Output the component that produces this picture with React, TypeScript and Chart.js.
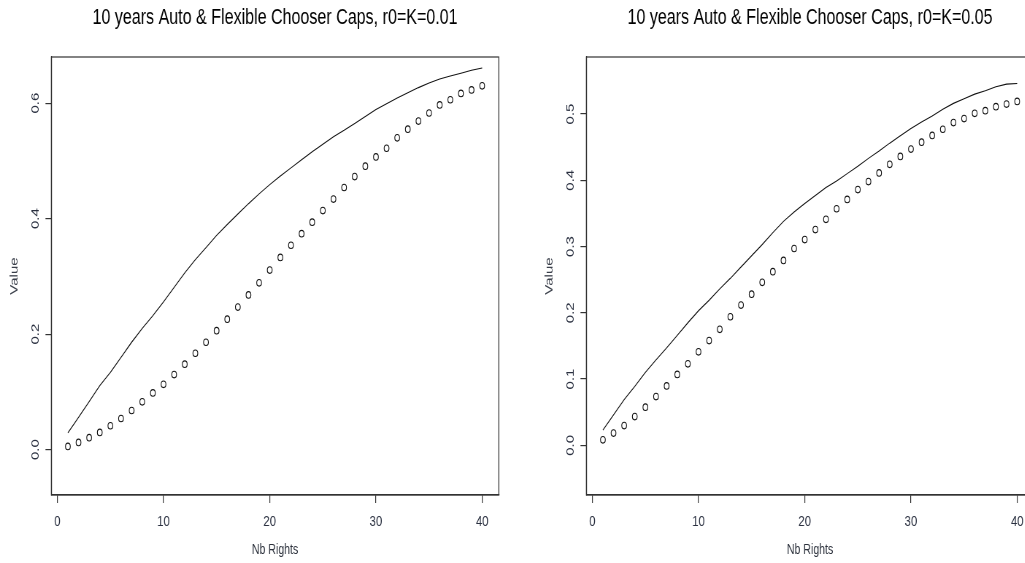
import React, { useEffect, useRef } from "react";
import { Chart, registerables } from "chart.js";

Chart.register(...registerables);

const rights = [1, 2, 3, 4, 5, 6, 7, 8, 9, 10, 11, 12, 13, 14, 15, 16, 17, 18, 19, 20, 21, 22, 23, 24, 25, 26, 27, 28, 29, 30, 31, 32, 33, 34, 35, 36, 37, 38, 39, 40];

const pointsK001 = [0.0057, 0.0126, 0.0207, 0.0298, 0.0414, 0.054, 0.0678, 0.0828, 0.0983, 0.1131, 0.13, 0.148, 0.167, 0.186, 0.206, 0.226, 0.247, 0.268, 0.289, 0.311, 0.333, 0.354, 0.374, 0.394, 0.414, 0.434, 0.454, 0.473, 0.491, 0.507, 0.522, 0.54, 0.555, 0.569, 0.583, 0.597, 0.606, 0.617, 0.623, 0.63];
const lineK001 = [0.029, 0.056, 0.083, 0.111, 0.134, 0.16, 0.186, 0.21, 0.232, 0.256, 0.281, 0.306, 0.329, 0.35, 0.371, 0.39, 0.408, 0.426, 0.443, 0.459, 0.474, 0.488, 0.502, 0.516, 0.529, 0.542, 0.553, 0.565, 0.577, 0.589, 0.599, 0.609, 0.618, 0.627, 0.635, 0.642, 0.647, 0.652, 0.657, 0.661];

const pointsK005 = [0.0083, 0.0184, 0.0298, 0.0434, 0.0575, 0.0735, 0.0896, 0.107, 0.123, 0.141, 0.158, 0.175, 0.194, 0.2116, 0.228, 0.246, 0.262, 0.279, 0.297, 0.3105, 0.3256, 0.341, 0.357, 0.371, 0.386, 0.398, 0.411, 0.424, 0.436, 0.447, 0.4575, 0.4676, 0.477, 0.487, 0.493, 0.501, 0.505, 0.511, 0.515, 0.519];
const lineK005 = [0.023, 0.046, 0.069, 0.089, 0.11, 0.129, 0.147, 0.166, 0.185, 0.203, 0.219, 0.236, 0.252, 0.269, 0.286, 0.303, 0.321, 0.338, 0.352, 0.365, 0.377, 0.389, 0.399, 0.41, 0.421, 0.433, 0.444, 0.456, 0.467, 0.478, 0.488, 0.497, 0.507, 0.516, 0.523, 0.53, 0.535, 0.541, 0.545, 0.546];

const xTicks = [0, 10, 20, 30, 40];
const yTicksK001 = [0, 0.2, 0.4, 0.6];
const yTicksK005 = [0, 0.1, 0.2, 0.3, 0.4, 0.5];

const titleK001 = "10 years Auto & Flexible Chooser Caps, r0=K=0.01";
const titleK005 = "10 years Auto & Flexible Chooser Caps, r0=K=0.05";

const SX = 0.73;
const CW = 733;
const CH = 563;
const FONT = "'Liberation Sans', Arial, sans-serif";

const boxPlugin = {
  id: "rbox",
  afterDraw(chart: any) {
    const { ctx, chartArea: a } = chart;
    ctx.save();
    ctx.strokeStyle = "#333";
    ctx.lineWidth = 1.2;
    ctx.strokeRect(a.left, a.top, a.right - a.left, a.bottom - a.top);
    ctx.restore();
  },
};

function Panel(props: { title: string; pts: number[]; line: number[]; yTicks: number[]; yMin: number; yMax: number; left: number }) {
  const ref = useRef<HTMLCanvasElement | null>(null);
  useEffect(() => {
    if (!ref.current) return;
    const chart = new Chart(ref.current, {
      type: "line",
      data: {
        datasets: [
          {
            data: rights.map((x, i) => ({ x, y: props.pts[i] })),
            showLine: false,
            pointStyle: "circle",
            pointRadius: 3.3,
            pointBorderWidth: 1.1,
            pointBorderColor: "#111",
            pointBackgroundColor: "rgba(0,0,0,0)",
            borderColor: "#111",
          },
          {
            data: rights.map((x, i) => ({ x, y: props.line[i] })),
            borderColor: "#111",
            borderWidth: 1.1,
            pointRadius: 0,
            tension: 0,
            fill: false,
          },
        ],
      },
      options: {
        responsive: false,
        animation: false,
        devicePixelRatio: 1,
        layout: { padding: { left: 0, right: CW - 683.2, top: 0, bottom: 0 } },
        plugins: {
          legend: { display: false },
          tooltip: { enabled: false },
          title: {
            display: true,
            text: props.title,
            fullSize: false,
            color: "#000",
            font: { family: FONT, size: 22, weight: "normal", lineHeight: 1.2 },
            padding: { top: 4.8, bottom: 25.8 },
          },
        },
        scales: {
          x: {
            type: "linear",
            min: -0.56,
            max: 41.56,
            afterBuildTicks: (s: any) => {
              s.ticks = xTicks.map((v) => ({ value: v }));
            },
            afterFit: (s: any) => {
              s.height = 68;
            },
            grid: { display: true, drawOnChartArea: false, drawTicks: true, tickLength: 8, color: "#333", tickColor: "#333", lineWidth: 1.2 },
            border: { display: true, color: "#333", width: 1.2 },
            ticks: {
              font: { family: FONT, size: 15.5 },
              color: "#2a3040",
              padding: 9.5,
              maxRotation: 0,
              minRotation: 0,
              callback: (v: any) => String(v),
            },
            title: {
              display: true,
              text: "Nb Rights",
              color: "#2a2f3a",
              font: { family: FONT, size: 14.5, lineHeight: 1.2 },
              padding: { top: 0, bottom: 4.1 },
            },
          },
          y: {
            type: "linear",
            min: props.yMin,
            max: props.yMax,
            afterBuildTicks: (s: any) => {
              s.ticks = props.yTicks.map((v) => ({ value: v }));
            },
            afterFit: (s: any) => {
              s.width = 70.3;
            },
            grid: { display: true, drawOnChartArea: false, drawTicks: true, tickLength: 8, color: "#333", tickColor: "#333", lineWidth: 1.2 },
            border: { display: true, color: "#333", width: 1.2 },
            ticks: {
              font: { family: FONT, size: 15 },
              color: "#2a3040",
              padding: 2.7,
              minRotation: 90,
              maxRotation: 90,
              crossAlign: "center",
              callback: (v: any) => Number(v).toFixed(1),
            },
            title: {
              display: true,
              text: "Value",
              color: "#3a3f4a",
              font: { family: FONT, size: 15, lineHeight: 1.2 },
              padding: { top: 10.5, bottom: 0 },
            },
          },
        },
      },
      plugins: [boxPlugin],
    } as any);
    return () => chart.destroy();
  }, []);
  return (
    <div
      style={{
        position: "absolute",
        left: props.left,
        top: 0,
        width: CW,
        height: CH,
        transform: `scaleX(${SX})`,
        transformOrigin: "0 0",
      }}
    >
      <canvas ref={ref} width={CW} height={CH} style={{ display: "block" }} />
    </div>
  );
}

export default function App() {
  return (
    <div
      style={{
        position: "fixed",
        left: 0,
        top: 0,
        width: 1025,
        height: 563,
        overflow: "hidden",
        background: "#fff",
      }}
    >
      <Panel title={titleK001} pts={pointsK001} line={lineK001} yTicks={yTicksK001} yMin={-0.0785} yMax={0.68} left={0} />
      <Panel title={titleK005} pts={pointsK005} line={lineK005} yTicks={yTicksK005} yMin={-0.075} yMax={0.586} left={535} />
    </div>
  );
}
